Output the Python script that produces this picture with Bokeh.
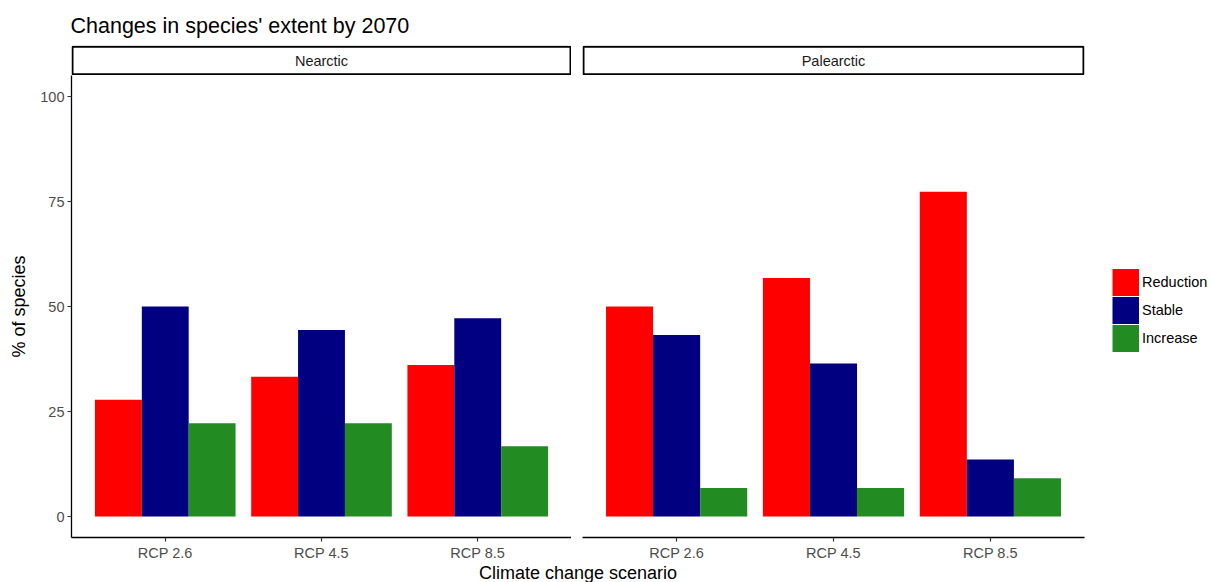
from bokeh.plotting import figure
from bokeh.models import (ColumnDataSource, FactorRange, Range1d, FixedTicker, BoxAnnotation,
                          Label, Legend, LegendItem, Div)
from bokeh.layouts import row, column
from bokeh.transform import dodge
from bokeh.embed import file_html
from bokeh.resources import INLINE

scenarios = ["RCP 2.6", "RCP 4.5", "RCP 8.5"]
regions = ["Nearctic", "Palearctic"]
change_types = ["Reduction", "Stable", "Increase"]
colors = ["#ff0000", "#000080", "#228b22"]

nearctic_reduction = [27.8, 33.3, 36.1]
nearctic_stable = [50.0, 44.4, 47.2]
nearctic_increase = [22.2, 22.2, 16.7]
palearctic_reduction = [50.0, 56.8, 77.3]
palearctic_stable = [43.2, 36.4, 13.6]
palearctic_increase = [6.8, 6.8, 9.1]

y_ticks = [0, 25, 50, 75, 100]

title_text = "Changes in species' extent by 2070"
y_label = "% of species"
x_label = "Climate change scenario"

FONT = "Liberation Sans"
TICK_COLOR = "#4d4d4d"

data = {
    "Nearctic": [nearctic_reduction, nearctic_stable, nearctic_increase],
    "Palearctic": [palearctic_reduction, palearctic_stable, palearctic_increase],
}


def make_strip(region, first):
    s = figure(
        x_range=Range1d(0, 1), y_range=Range1d(0, 1),
        frame_width=500 if first else 502, frame_height=30,
        min_border_left=71 if first else 11, min_border_right=0 if first else 127,
        min_border_top=45, min_border_bottom=0,
        x_axis_location=None, y_axis_location=None,
        output_backend="svg", toolbar_location=None,
        title=title_text if first else None,
    )
    s.outline_line_color = None
    s.xgrid.visible = False
    s.ygrid.visible = False
    s.border_fill_color = "white"
    s.add_layout(BoxAnnotation(left=0.002, right=0.998, bottom=0.04, top=0.96,
                               fill_color="white", fill_alpha=1.0, line_color="black",
                               line_alpha=1.0, line_width=2))
    s.add_layout(Label(x=0.5, y=0.5, text=region, text_align="center", text_baseline="middle",
                       text_font=FONT, text_font_size="14.5px", text_color="#1a1a1a"))
    if first:
        s.title.text_font = FONT
        s.title.text_font_size = "21.5px"
        s.title.text_font_style = "normal"
        s.title.text_color = "black"
        s.title.standoff = 15
        s.title.offset = -1
    return s


def make_panel(region, first):
    vals = data[region]
    src = ColumnDataSource(dict(scenario=scenarios, Reduction=vals[0], Stable=vals[1], Increase=vals[2]))
    p = figure(
        x_range=FactorRange(*scenarios, range_padding=0.1, range_padding_units="absolute"),
        y_range=Range1d(-5, 105),
        frame_width=500 if first else 502,
        frame_height=462,
        min_border_left=71 if first else 11,
        min_border_right=0 if first else 127,
        min_border_top=0,
        min_border_bottom=26,
        output_backend="svg",
        toolbar_location=None,
    )
    p.outline_line_color = None
    p.xgrid.visible = False
    p.ygrid.visible = False
    p.background_fill_color = "white"
    p.border_fill_color = "white"

    for i, (ct, col) in enumerate(zip(change_types, colors)):
        p.vbar(x=dodge("scenario", -0.3 + 0.3 * i, range=p.x_range), top=ct, bottom=0,
               width=0.3, source=src, fill_color=col, line_color=None)

    xa = p.xaxis[0]
    xa.axis_line_color = "black"
    xa.axis_line_width = 1.3
    xa.major_tick_line_color = "#333333"
    xa.major_tick_line_width = 1.2
    xa.major_tick_out = 4
    xa.major_tick_in = 0
    xa.minor_tick_line_color = None
    xa.major_label_text_font = FONT
    xa.major_label_text_font_size = "14.5px"
    xa.major_label_text_color = TICK_COLOR
    xa.major_label_standoff = 3

    ya = p.yaxis[0]
    if first:
        ya.ticker = FixedTicker(ticks=y_ticks)
        ya.axis_line_color = "black"
        ya.axis_line_width = 1.3
        ya.major_tick_line_color = "#333333"
        ya.major_tick_line_width = 1.2
        ya.major_tick_out = 4
        ya.major_tick_in = 0
        ya.minor_tick_line_color = None
        ya.major_label_text_font = FONT
        ya.major_label_text_font_size = "14.5px"
        ya.major_label_text_color = TICK_COLOR
        ya.major_label_standoff = 3
        ya.axis_label = y_label
        ya.axis_label_text_font = FONT
        ya.axis_label_text_font_size = "18px"
        ya.axis_label_text_font_style = "normal"
        ya.axis_label_text_color = "black"
        ya.axis_label_standoff = 8
    else:
        ya.visible = False
        # legend keys: full-size square swatches (ggplot style); the key lines hold no visible point
        key_src = ColumnDataSource(dict(x=[scenarios[0]], y=[float("nan")]))
        items = []
        for ct, col in zip(change_types, colors):
            kr = p.line(x="x", y="y", source=key_src, line_color=col, line_width=27, line_cap="butt")
            items.append(LegendItem(label=ct, renderers=[kr]))
        legend = Legend(items=items, location=(28, 185), glyph_width=27, glyph_height=28,
                        label_height=28, spacing=0, padding=0, margin=0, label_standoff=3,
                        label_text_font=FONT, label_text_font_size="14.5px", label_text_color="black",
                        border_line_color=None, background_fill_alpha=0)
        p.add_layout(legend, "right")
    return p


s1 = make_strip("Nearctic", True)
s2 = make_strip("Palearctic", False)
p1 = make_panel("Nearctic", True)
p2 = make_panel("Palearctic", False)

xlab = Div(text=x_label, width=1146, height=19,
           styles={"text-align": "center", "font-family": FONT, "font-size": "18px",
                   "color": "black", "line-height": "11px", "overflow": "visible"})

layout = column(row(s1, s2), row(p1, p2), xlab)

open("out.html", "w").write(file_html(layout, INLINE))
